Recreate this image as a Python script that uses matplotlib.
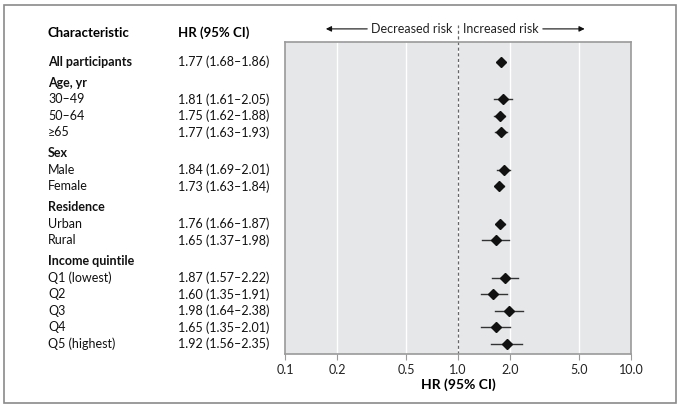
import matplotlib

matplotlib.use("Agg")
import matplotlib.pyplot as plt
from matplotlib.patches import Rectangle
from matplotlib.transforms import blended_transform_factory

plt.rcParams["font.family"] = ["Lato", "DejaVu Sans"]

# rows of the table, top to bottom
labels = ["All participants", "Age, yr", "30–49", "50–64", "≥65",
          "Sex", "Male", "Female", "Residence", "Urban", "Rural",
          "Income quintile", "Q1 (lowest)", "Q2", "Q3", "Q4", "Q5 (highest)"]
bold_rows = ["All participants", "Age, yr", "Sex", "Residence", "Income quintile"]
group_headers = ["Age, yr", "Sex", "Residence", "Income quintile"]

hr = [1.77, None, 1.81, 1.75, 1.77, None, 1.84, 1.73, None, 1.76, 1.65,
      None, 1.87, 1.60, 1.98, 1.65, 1.92]
lo = [1.68, None, 1.61, 1.62, 1.63, None, 1.69, 1.63, None, 1.66, 1.37,
      None, 1.57, 1.35, 1.64, 1.35, 1.56]
hi = [1.86, None, 2.05, 1.88, 1.93, None, 2.01, 1.84, None, 1.87, 1.98,
      None, 2.22, 1.91, 2.38, 2.01, 2.35]

xticks = [0.1, 0.2, 0.5, 1.0, 2.0, 5.0, 10.0]

# row positions: one unit per row, small extra gap before group headers
ypos = []
y = 0.0
for i, lab in enumerate(labels):
    if i > 0:
        y += 1.25 if lab in group_headers else 1.0
    ypos.append(y)

fig = plt.figure(figsize=(6.8, 4.08), dpi=100)
ax = fig.add_axes([285 / 680, 1 - 354 / 408, 346 / 680, 312 / 408])

ax.set_facecolor("#e6e7e8")
ax.set_xscale("log")
ax.set_xlim(0.1, 10)
ax.set_ylim(ypos[-1] + 0.6, -1.2)
ax.set_xticks(xticks)
ax.set_xticklabels([f"{t:.1f}" for t in xticks], fontsize=9, color="#222")
ax.minorticks_off()
ax.set_yticks([])
for t in xticks[1:-1]:
    ax.axvline(t, color="white", lw=1, zorder=0)
for s in ax.spines.values():
    s.set_color("#9a9a9a")
    s.set_linewidth(1.2)
ax.tick_params(axis="x", length=4, color="#9a9a9a", pad=3)
ax.set_xlabel("HR (95% CI)", fontsize=10, fontweight="bold", labelpad=2)

# reference line at HR = 1, extending above the panel
ax.axvline(1.0, ymin=0, ymax=1.055, color="#666", lw=0.9, ls=(0, (2.5, 2)),
           clip_on=False, zorder=1)

for yy, h, l, u in zip(ypos, hr, lo, hi):
    if h is None:
        continue
    ax.plot([l, u], [yy, yy], color="#333", lw=1, zorder=2)
    ax.plot(h, yy, marker="D", color="#111", ms=5, zorder=3)

# direction arrows above the panel
trx = blended_transform_factory(ax.transData, ax.transAxes)
ax.annotate("", xy=(0.166, 1.042), xytext=(0.31, 1.042), xycoords=trx,
            textcoords=trx, arrowprops=dict(arrowstyle="-|>", color="#111",
                                            lw=0.8, mutation_scale=8))
ax.annotate("", xy=(5.6, 1.042), xytext=(2.98, 1.042), xycoords=trx,
            textcoords=trx, arrowprops=dict(arrowstyle="-|>", color="#111",
                                            lw=0.8, mutation_scale=8))
ax.text(0.93, 1.042, "Decreased risk", transform=trx, ha="right", va="center",
        fontsize=9, color="#222")
ax.text(1.07, 1.042, "Increased risk", transform=trx, ha="left", va="center",
        fontsize=9, color="#222")

# left-hand table
tr = blended_transform_factory(fig.transFigure, ax.transData)
x_lab, x_hr = 48 / 680, 178 / 680
head_y = -1.75
ax.text(x_lab, head_y, "Characteristic", transform=tr, fontsize=9.5,
        fontweight="bold", va="center", clip_on=False)
ax.text(x_hr, head_y, "HR (95% CI)", transform=tr, fontsize=9.5,
        fontweight="bold", va="center", clip_on=False)
for yy, lab, h, l, u in zip(ypos, labels, hr, lo, hi):
    ax.text(x_lab, yy, lab, transform=tr, fontsize=9, va="center",
            fontweight="bold" if lab in bold_rows else "normal", color="#111")
    if h is not None:
        ax.text(x_hr, yy, f"{h:.2f} ({l:.2f}–{u:.2f})", transform=tr,
                fontsize=9, va="center", color="#111")

# outer frame
fig.patches.append(Rectangle((4 / 680, 5 / 408), 672 / 680, 398 / 408,
                             transform=fig.transFigure, fill=False,
                             edgecolor="#8a8a8a", lw=1.2))

fig.savefig("out.png", dpi=100)
